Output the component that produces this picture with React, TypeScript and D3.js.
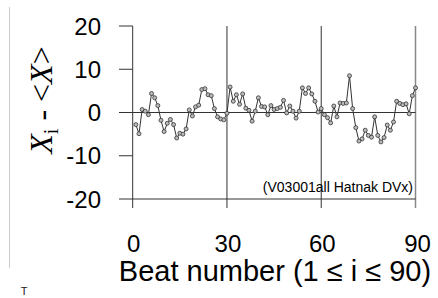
import React from "react";
import * as d3 from "d3";

// deviation of beat interval from the mean, beats 1..90
const beatValues = [
  -2.8, -4.9, 0.7, 0.3, -0.5, 4.4, 3.4, 1.6, -1.8, -4.4,
  -2.5, -1.6, -2.8, -5.9, -4.8, -5.0, -3.8, 0.6, -0.8, 1.3,
  1.7, 5.3, 5.5, 4.1, 3.9, 0.9, -1.0, -1.5, -1.7, -0.2,
  5.9, 2.6, 4.1, 1.9, 4.3, 1.0, 0.5, -2.0, 0.3, 3.4,
  1.4, 1.3, -0.5, 1.6, 0.7, 0.9, 1.2, 2.8, -0.1, 1.5,
  0.3, -1.3, 0.3, 5.7, 4.4, 5.7, 4.3, 2.6, 0.1, 0.9,
  -0.5, -1.2, -2.4, 1.5, -1.0, 2.2, 2.1, 2.2, 8.5, 0.9,
  -3.5, -6.6, -6.1, -4.1, -5.3, -5.7, -1.0, -5.3, -6.8, -5.8,
  -2.9, -4.1, -2.2, 2.6, 2.1, 1.8, 2.0, -0.3, 3.9, 5.7,
];
const xTicks = [0, 30, 60, 90];
const yTicks = [20, 10, 0, -10, -20];
const note = "(V03001all Hatnak DVx)";
const xTitle = "Beat number (1 \u2264 i \u2264 90)";

const W = 438;
const H = 298;

export default function App() {
  const x = d3.scaleLinear().domain([0, 90]).range([132.7, 415.5]);
  const y = d3.scaleLinear().domain([-20, 20]).range([199, 26]);

  const pts = beatValues.map((v, i) => ({ i: i + 1, v }));
  const line = d3
    .line<{ i: number; v: number }>()
    .x((d) => x(d.i))
    .y((d) => y(d.v));

  const sans = "'Liberation Sans', Arial, sans-serif";
  const serif = "'Liberation Serif', 'Times New Roman', serif";
  const axisColor = "#333";

  return (
    <svg
      width={W}
      height={H}
      style={{ position: "absolute", left: 0, top: 0, background: "#fff" }}
    >
      <line x1={9.5} x2={9.5} y1={7} y2={268} stroke="#ccc" strokeWidth={1} />
      <text x={24} y={295} fontFamily={sans} fontSize={11} textAnchor="middle" fill="#222">
        T
      </text>

      {/* vertical grid lines */}
      {xTicks.slice(1).map((t) => (
        <line
          key={"g" + t}
          x1={x(t)}
          x2={x(t)}
          y1={y(20)}
          y2={208}
          stroke={t === 90 ? "#888" : axisColor}
          strokeWidth={t === 90 ? 1.5 : 1}
        />
      ))}

      {/* y axis */}
      <line x1={x(0)} x2={x(0)} y1={y(20)} y2={208} stroke={axisColor} />
      {yTicks.map((t) => (
        <g key={"y" + t}>
          <line
            x1={119}
            x2={t === 0 || t === -20 ? x(90) : x(0)}
            y1={y(t)}
            y2={y(t)}
            stroke={axisColor}
          />
          <text
            x={101}
            y={y(t) + 8.5}
            fontFamily={sans}
            fontSize={24}
            textAnchor="end"
            fill="#000"
          >
            {t}
          </text>
        </g>
      ))}

      {xTicks.map((t) => (
        <text
          key={"x" + t}
          x={x(t) + (t === 90 ? 2 : 1)}
          y={252}
          fontFamily={sans}
          fontSize={24}
          textAnchor="middle"
          fill="#000"
        >
          {t}
        </text>
      ))}
      <text x={275} y={281} fontFamily={sans} fontSize={29} textAnchor="middle" fill="#000">
        {xTitle}
      </text>

      <text
        transform="translate(52,100) rotate(-90)"
        fontFamily={serif}
        fontSize={32}
        textAnchor="middle"
        fill="#000"
      >
        <tspan fontStyle="italic">X</tspan>
        <tspan fontSize={20} dy={6}>i</tspan>
        <tspan dy={-6}> - &lt;</tspan>
        <tspan fontStyle="italic">X</tspan>
        <tspan>&gt;</tspan>
      </text>

      <text x={413} y={192} fontFamily={sans} fontSize={14} textAnchor="end" fill="#000">
        {note}
      </text>

      <path d={line(pts) || ""} fill="none" stroke="#333" strokeWidth={1} />
      {pts.map((d) => (
        <circle
          key={d.i}
          cx={x(d.i)}
          cy={y(d.v)}
          r={2}
          fill="#bbb"
          stroke="#333"
          strokeWidth={0.8}
        />
      ))}
    </svg>
  );
}
